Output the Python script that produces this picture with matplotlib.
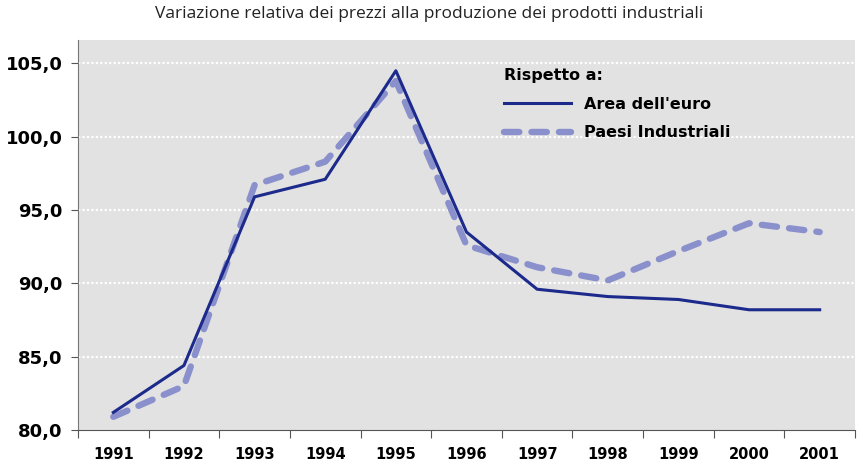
import numpy as np
import matplotlib.pyplot as plt

anni = ["1991", "1992", "1993", "1994", "1995", "1996", "1997", "1998", "1999", "2000", "2001"]
area_euro = [81.2, 84.4, 95.9, 97.1, 104.5, 93.5, 89.6, 89.1, 88.9, 88.2, 88.2]
paesi_ind = [80.9, 83.0, 96.7, 98.3, 103.8, 92.6, 91.1, 90.2, 92.2, 94.1, 93.5]
yticks = [80, 85, 90, 95, 100, 105]

fig = plt.figure(figsize=(8.58, 4.70), dpi=100)
ax = fig.add_axes([0.0909, 0.0851, 0.9056, 0.8299])
ax.set_facecolor("#e2e2e2")

x = np.arange(len(anni))
l_paesi, = ax.plot(x, paesi_ind, color="#8a90cc", linewidth=4.6, linestyle=(0, (2.4, 1.9)),
                   dash_capstyle="round", label="Paesi Industriali", zorder=3)
l_euro, = ax.plot(x, area_euro, color="#1c2a8c", linewidth=2.2, label="Area dell'euro", zorder=4)

ax.set_xlim(-0.5, 10.5)
ax.set_ylim(80, 106.6)

# griglia orizzontale bianca tratteggiata
for v in yticks[1:]:
    ax.axhline(v, color="white", linestyle=(0, (1, 1)), linewidth=1.6, zorder=1)

ax.set_yticks(yticks)
ax.set_yticklabels([f"{v},0" for v in yticks], fontsize=13, fontweight="bold")
ax.set_xticks(np.arange(-0.5, 11, 1))
ax.set_xticklabels([])
ax.set_xticks(x, minor=True)
ax.set_xticklabels(anni, minor=True, fontsize=10.5, fontweight="bold")
ax.tick_params(axis="x", which="minor", length=0, pad=12)
ax.tick_params(axis="x", which="major", length=6, color="#555555", direction="out")
ax.tick_params(axis="y", length=5, color="#555555", pad=6)

for s in ["top", "right"]:
    ax.spines[s].set_visible(False)
ax.spines["left"].set_color("#777777")
ax.spines["left"].set_linestyle((0, (1, 1)))
ax.spines["bottom"].set_color("#555555")

fig.text(0.5, 0.97, "Variazione relativa dei prezzi alla produzione dei prodotti industriali",
         ha="center", va="center", fontsize=12.5, color="#222222", family="Open Sans")

leg = ax.legend(handles=[l_euro, l_paesi], loc="upper left", bbox_to_anchor=(0.53, 0.965),
                frameon=False, title="Rispetto a:", handlelength=4.2, labelspacing=0.85,
                prop={"weight": "bold", "size": 11.5})
leg.get_title().set_fontweight("bold")
leg.get_title().set_fontsize(11.5)
leg._legend_box.align = "left"

fig.savefig("out.png", dpi=100)
